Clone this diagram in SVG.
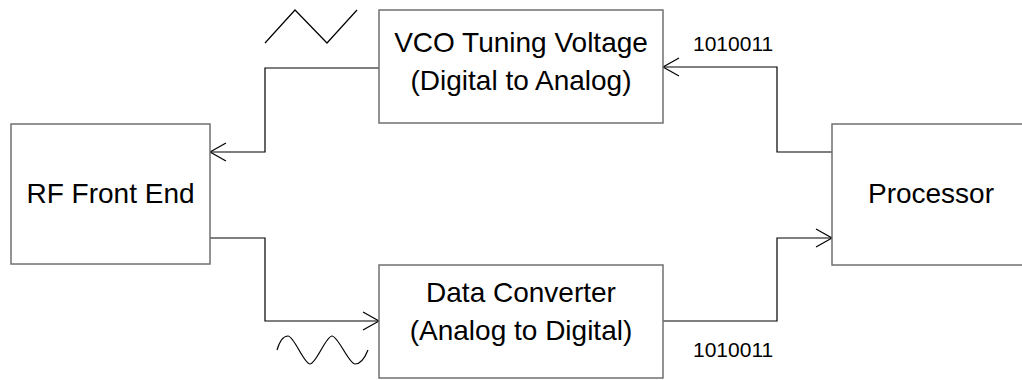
<svg xmlns="http://www.w3.org/2000/svg" width="1022" height="380" viewBox="0 0 1022 380">
<style>
.box{fill:#fff;stroke:#707070;stroke-width:1.5}
.lbl{font-family:"Liberation Sans",Arial,sans-serif;font-size:28px;fill:#000;text-anchor:middle}
.bits{font-family:"Liberation Sans",Arial,sans-serif;font-size:21px;fill:#000}
.wire{fill:none;stroke:#000;stroke-width:1.2}
.wave{fill:none;stroke:#000;stroke-width:1.2}
</style>
<defs>
<marker id="arr" viewBox="0 0 20 20" refX="18" refY="10" markerWidth="20" markerHeight="20" markerUnits="userSpaceOnUse" orient="auto">
<path d="M2,1 L18,10 L2,19" fill="none" stroke="#000" stroke-width="1.2"/>
</marker>
</defs>
<rect width="1022" height="380" fill="#fff"/>
<g id="connectors">
<polyline class="wire" points="832,152 777,152 777,67 663,67" marker-end="url(#arr)"/>
<polyline class="wire" points="379,68 265,68 265,152 210,152" marker-end="url(#arr)"/>
<polyline class="wire" points="210,238 265,238 265,321 379,321" marker-end="url(#arr)"/>
<polyline class="wire" points="663,321 777,321 777,238 832,238" marker-end="url(#arr)"/>
</g>
<g id="rf-front-end">
<rect class="box" x="11" y="124" width="199" height="140"/>
<text class="lbl" x="110.5" y="203">RF Front End</text>
</g>
<g id="vco">
<rect class="box" x="379" y="10" width="284" height="113"/>
<text class="lbl" x="521" y="52">VCO Tuning Voltage</text>
<text class="lbl" x="521" y="90">(Digital to Analog)</text>
</g>
<g id="data-converter">
<rect class="box" x="379" y="265" width="284" height="113"/>
<text class="lbl" x="521" y="302">Data Converter</text>
<text class="lbl" x="521" y="340">(Analog to Digital)</text>
</g>
<g id="processor">
<rect class="box" x="832" y="124" width="200" height="141"/>
<text class="lbl" x="931" y="203">Processor</text>
</g>
<g id="annotations">
<polyline class="wave" points="265,43 295,10 327,43 357,10"/>
<path class="wave" d="M277,350 C280,340 284,336 288,336 C294,336 304,364 310,364 C316,364 326,336 332,336 C338,336 349,364 355,364 C360,364 364,360 368,350"/>
<text class="bits" x="693" y="51">1010011</text>
<text class="bits" x="693" y="357">1010011</text>
</g>
</svg>
